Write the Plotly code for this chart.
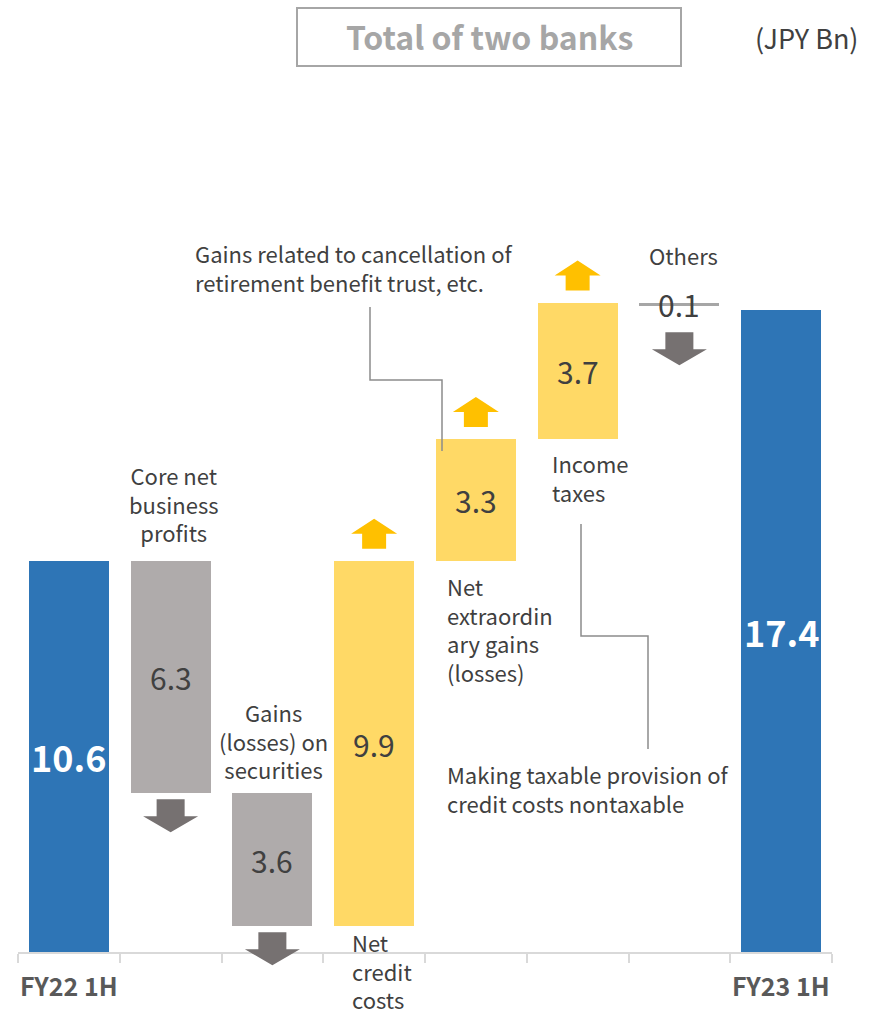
import plotly.graph_objects as go

# ---------------- data ----------------
categories = ["FY22 1H", "Core net business profits", "Gains (losses) on securities",
              "Net credit costs", "Net extraordinary gains (losses)", "Income taxes",
              "Others", "FY23 1H"]
values = [10.6, -6.3, -3.6, 9.9, 3.3, 3.7, -0.1, 17.4]
measures = ["total", "relative", "relative", "relative", "relative", "relative", "relative", "total"]
tick_labels = ["FY22 1H", "", "", "", "", "", "", "FY23 1H"]
value_labels = ["10.6", "6.3", "3.6", "9.9", "3.3", "3.7", "0.1", "17.4"]

# ---------------- layout geometry (pixels) ----------------
W, H = 877, 1011
L, R, T, B = 18, 45, 100, 59
Y0 = H - B                  # pixel of y = 0
PX_PER_UNIT_Y = 36.9
YMAX = (Y0 - T) / PX_PER_UNIT_Y
UNIT_X = (W - L - R) / len(categories)

def yp(py):      # pixel y -> paper fraction
    return (Y0 - py) / (Y0 - T)

def y2px(v):     # data y -> pixel
    return Y0 - v * PX_PER_UNIT_Y

def xd(px):      # pixel x -> data x
    return (px - L) / UNIT_X - 0.5

def dx(px):      # pixel width -> data width
    return px / UNIT_X

BLUE = "#2E75B6"
GRAY_BAR = "#AFABAB"
YELLOW = "#FFD966"
UP_ARROW = "#FFC000"
DOWN_ARROW = "#767171"
TEXT = "#404040"
FONT = "Noto Sans CJK JP"

# ---------------- compute bars ----------------
bases, heights, colors, starts, ends = [], [], [], [], []
running = 0.0
for v, m in zip(values, measures):
    if m == "total":
        s, e = 0.0, v
        running = v
        colors.append(BLUE)
    else:
        s, e = running, running + v
        running = e
        colors.append(YELLOW if v > 0 else (GRAY_BAR if abs(v) > 0.5 else "#A6A6A6"))
    starts.append(s)
    ends.append(e)
    bases.append(min(s, e))
    heights.append(abs(e - s))

xs = list(range(len(categories)))

fig = go.Figure()
fig.add_trace(go.Bar(
    x=xs, y=heights, base=bases, width=80 / UNIT_X,
    marker=dict(color=colors, line=dict(width=0)),
    hoverinfo="skip", showlegend=False,
))

annotations = []
shapes = []

# value labels
for i, (lab, b, h, m) in enumerate(zip(value_labels, bases, heights, measures)):
    if m == "total":
        f = dict(family=FONT, size=36, color="white", weight="bold")
    else:
        f = dict(family=FONT, size=30, color=TEXT)
    annotations.append(dict(x=i, y=b + h / 2, xref="x", yref="y", text=lab,
                            showarrow=False, font=f, xanchor="center", yanchor="middle"))

# arrows
for i, (v, m, s, e) in enumerate(zip(values, measures, starts, ends)):
    if m == "total":
        continue
    if v > 0:
        wpx, shaft, hh, tot, gap = 46, 24, 15, 30, 12
        bot = y2px(e) - gap
        top = bot - tot
        mid = top + hh
        pts = [(i - dx(shaft) / 2, bot), (i - dx(shaft) / 2, mid), (i - dx(wpx) / 2, mid),
               (i, top), (i + dx(wpx) / 2, mid), (i + dx(shaft) / 2, mid), (i + dx(shaft) / 2, bot)]
        col = UP_ARROW
    else:
        wpx, shaft, sh, tot = 55, 28, 17, 33
        gap = 6 if abs(v) > 0.5 else 26
        top = y2px(min(s, e)) + gap
        mid = top + sh
        bot = top + tot
        pts = [(i - dx(shaft) / 2, top), (i - dx(shaft) / 2, mid), (i - dx(wpx) / 2, mid),
               (i, bot), (i + dx(wpx) / 2, mid), (i + dx(shaft) / 2, mid), (i + dx(shaft) / 2, top)]
        col = DOWN_ARROW
    path = "M " + " L ".join(f"{px:.4f},{yp(py):.5f}" for px, py in pts) + " Z"
    shapes.append(dict(type="path", path=path, xref="x", yref="paper",
                       fillcolor=col, line=dict(width=0), layer="above"))

# connector lines
def conn(points):
    path = "M " + " L ".join(f"{xd(px):.4f},{yp(py):.5f}" for px, py in points)
    return dict(type="path", path=path, xref="x", yref="paper",
                line=dict(color="#8C8C8C", width=1.5), layer="above")

shapes.append(conn([(370, 307), (370, 380), (442, 380), (442, y2px(ends[4]) + 12)]))
shapes.append(conn([(581, 524), (581, 636), (648, 636), (648, 749)]))

# category text labels
def lab(text, px, py, anchor="center", size=22):
    annotations.append(dict(x=xd(px), y=yp(py), xref="x", yref="paper", text=text,
                            showarrow=False, xanchor=anchor, yanchor="middle", align=anchor,
                            font=dict(family=FONT, size=size, color=TEXT)))

lab("Core net<br>business<br>profits", 174, 504)
lab("Gains<br>(losses) on<br>securities", 273, 740)
lab("Net<br>credit<br>costs", 350, 970, "left")
lab("Net<br>extraordin<br>ary gains<br>(losses)", 445, 629, "left")
lab("Income<br>taxes", 550, 478, "left")
lab("Others", 683, 255)
lab("Gains related to cancellation of<br>retirement benefit trust, etc.", 193, 267, "left")
lab("Making taxable provision of<br>credit costs nontaxable", 445, 788, "left")

# x tick labels
for i, t in enumerate(tick_labels):
    if t:
        annotations.append(dict(x=i, y=yp(985), xref="x", yref="paper", text=t,
                                showarrow=False, xanchor="center", yanchor="middle",
                                font=dict(family=FONT, size=25, color="#595959", weight="bold")))

# title box
def xp(px):
    return (px - L) / (W - L - R)

shapes.append(dict(type="rect", xref="paper", yref="paper",
                   x0=xp(297), x1=xp(681), y0=yp(66), y1=yp(8),
                   line=dict(color="#A6A6A6", width=2), fillcolor="rgba(0,0,0,0)"))
annotations.append(dict(x=xp(489), y=yp(36), xref="paper", yref="paper",
                        text="Total of two banks", showarrow=False,
                        xanchor="center", yanchor="middle",
                        font=dict(family=FONT, size=32, color="#A6A6A6", weight="bold")))
annotations.append(dict(x=xp(807), y=yp(38), xref="paper", yref="paper",
                        text="(JPY Bn)", showarrow=False,
                        xanchor="center", yanchor="middle",
                        font=dict(family=FONT, size=27, color=TEXT)))

fig.update_layout(
    width=W, height=H,
    margin=dict(l=L, r=R, t=T, b=B, autoexpand=False),
    paper_bgcolor="white", plot_bgcolor="white",
    xaxis=dict(range=[-0.5, len(categories) - 0.5], showgrid=False, zeroline=False,
               showline=True, linecolor="#D9D9D9", linewidth=2,
               tickvals=[i - 0.5 for i in range(len(categories) + 1)],
               ticks="outside", ticklen=9, tickcolor="#D9D9D9", tickwidth=2,
               showticklabels=False, fixedrange=True),
    yaxis=dict(range=[0, YMAX], visible=False, fixedrange=True),
    annotations=annotations, shapes=shapes,
    bargap=0, showlegend=False,
)

fig.write_html("out.html", config={"displayModeBar": False},
               post_script="document.body.style.margin='0';document.body.style.overflow='hidden';")
